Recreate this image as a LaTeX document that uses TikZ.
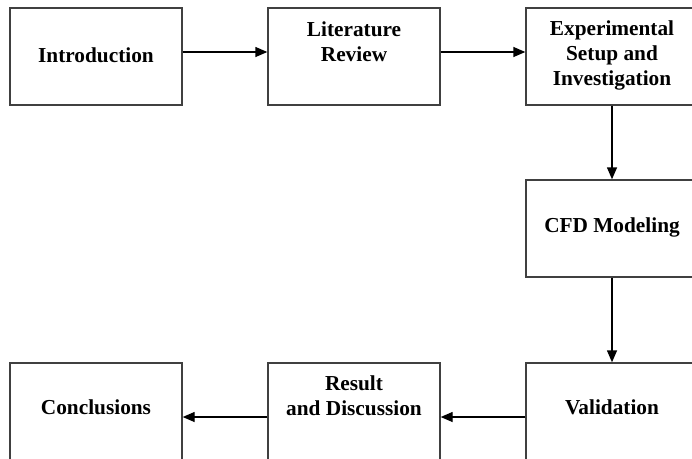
\documentclass[tikz,border=0pt]{standalone}
\usepackage{fontspec}
\setmainfont{Liberation Serif}
\usetikzlibrary{arrows.meta}
\begin{document}
\begin{tikzpicture}[x=1pt,y=-1pt,
  box/.style={draw=black!75, line width=1.4pt, minimum width=172pt, minimum height=97pt, inner sep=0pt},
  txt/.style={font=\fontsize{21.3}{25}\selectfont\bfseries, align=center, inner sep=0pt, anchor=base},
  arr/.style={draw=black, line width=1.4pt, -{Triangle[length=12pt,width=10pt]}}]
\useasboundingbox (0,0) rectangle (692,458);
\clip (0,0) rectangle (692,458);
\fill[white] (0,0) rectangle (692,458);
% boxes
\node[box] (intro) at (96,56.5) {};
\node[box] (lit) at (354,56.5) {};
\node[box] (exp) at (612,56.5) {};
\node[box] (cfd) at (612,228.5) {};
\node[box] (val) at (612,411.5) {};
\node[box] (res) at (354,411.5) {};
\node[box] (con) at (96,411.5) {};
% texts (base anchor = last line's baseline)
\node[txt] (introT) at (96,62) {Introduction};
\node[txt] (litT) at (354,61) {Literature\\Review};
\node[txt] (expT) at (612,85) {Experimental\\Setup and\\Investigation};
\node[txt] (cfdT) at (612,232) {CFD Modeling};
\node[txt] (valT) at (612,414) {Validation};
\node[txt] (resT) at (354,415) {Result\\and Discussion};
\node[txt] (conT) at (96,414) {Conclusions};
% arrows
\draw[arr] ([yshift=4.5pt]intro.east) -- ([yshift=4.5pt]lit.west);
\draw[arr] ([yshift=4.5pt]lit.east) -- ([yshift=4.5pt]exp.west);
\draw[arr] (exp.south) -- (cfd.north);
\draw[arr] (cfd.south) -- (val.north);
\draw[arr] ([yshift=-5.5pt]val.west) -- ([yshift=-5.5pt]res.east);
\draw[arr] ([yshift=-5.5pt]res.west) -- ([yshift=-5.5pt]con.east);
\end{tikzpicture}
\end{document}
